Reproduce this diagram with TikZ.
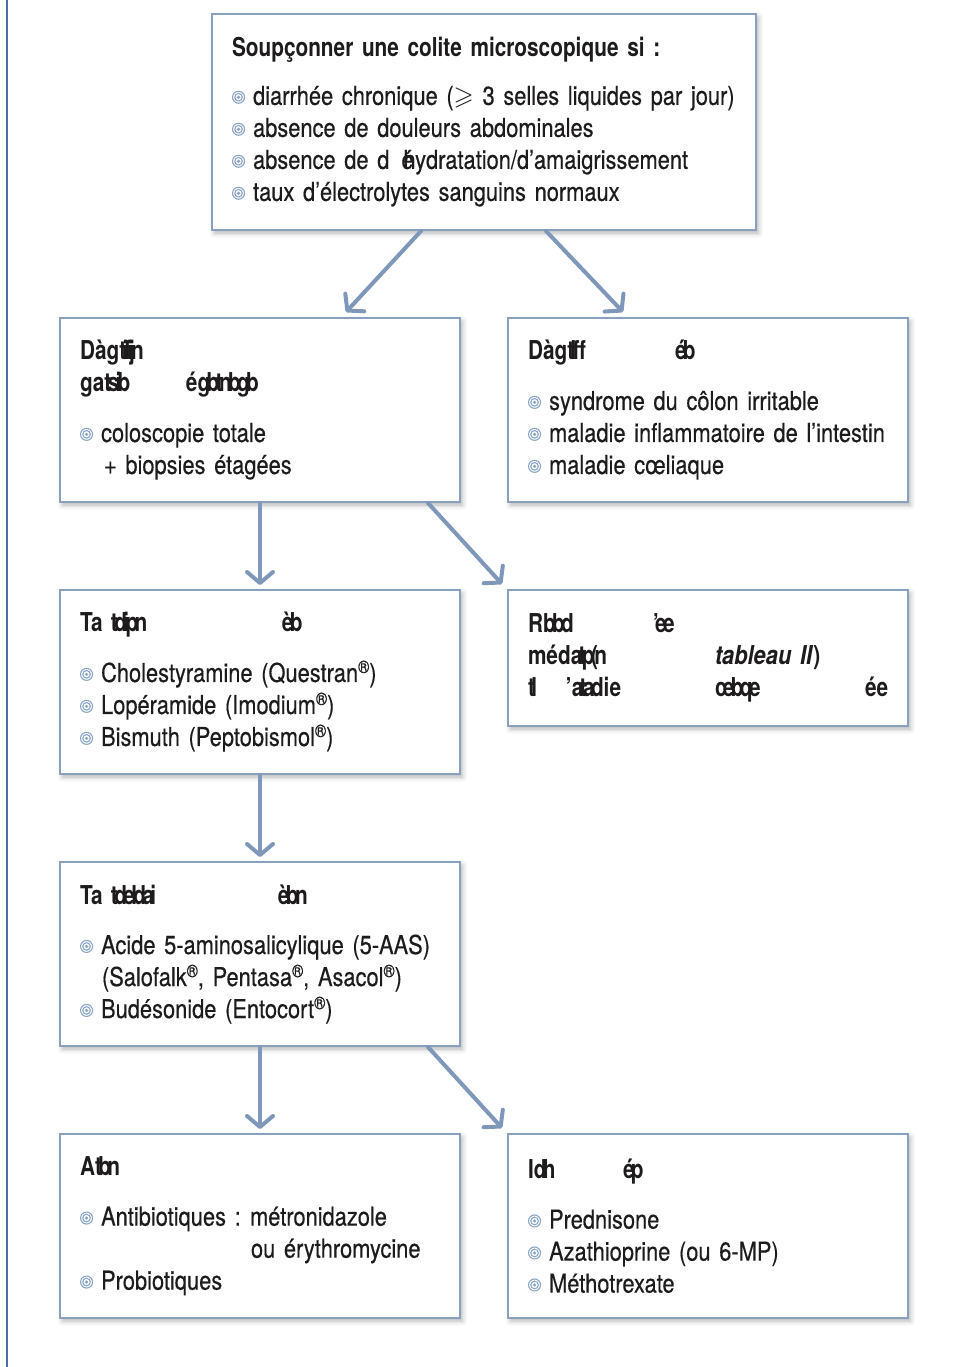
\documentclass[tikz,border=0pt]{standalone}
\usepackage{amssymb}
\usepackage{fontspec}
\setmainfont{TeX Gyre Heros}[FakeStretch=0.84,
    UprightFeatures={FakeBold=0.4},ItalicFeatures={FakeBold=0.4},
    BoldFeatures={FakeStretch=0.8}]
\usetikzlibrary{arrows.meta,shadows.blur}
\setlength{\parindent}{0pt}

\definecolor{cadre}{RGB}{138,160,192}
\definecolor{fleche}{RGB}{127,152,186}
\definecolor{spirale}{RGB}{140,165,200}
\definecolor{encre}{RGB}{30,27,28}
\definecolor{marge}{RGB}{75,110,170}

% puce en spirale
\newcommand{\puce}{\tikz[baseline=0pt]{\draw[spirale,line width=.55pt] (0,3.8pt) circle (3pt) (0,3.8pt) circle (1.9pt); \fill[spirale] (0,3.8pt) circle (.9pt);}\hspace{4pt}}
\newcommand{\placer}[2]{\makebox[0pt][l]{\hspace*{#1}#2}}
\newcommand{\garb}[1]{{\addfontfeature{LetterSpace=-14}#1}}
\newcommand{\rr}{\raisebox{4.5pt}{\fontsize{9}{9}\selectfont ®}}
\DeclareRobustCommand{\serre}{\spaceskip=2.8pt plus 1pt minus .5pt\relax}

\begin{document}
\begin{tikzpicture}[x=0.5pt,y=-0.5pt]
    \tikzset{
        boite/.style={draw=cadre,line width=1pt,fill=white,anchor=north west,align=left,
            inner xsep=10pt,inner ysep=0pt,text=encre,
            font=\fontsize{13}{16}\selectfont\serre,
            blur shadow={shadow xshift=1.2pt,shadow yshift=-1.5pt,shadow blur radius=2.5pt,shadow opacity=30}},
        etroite/.style={text width=180pt,minimum height=92pt},
        large/.style={text width=252pt,minimum height=108pt},
        lien/.style={draw=fleche,line width=2pt,line cap=round,-{Straight Barb[length=5.5pt,width=13pt,round]}}
    }
    \useasboundingbox (0,0) rectangle (962,1367);
    \draw[marge,line width=1pt] (6.5,0) -- (6.5,1367);

    \node[boite,large] (haut) at (211,13) {\textbf{Soupçonner une colite microscopique si :}\par\vspace{8pt}
        \puce diarrhée chronique ($\geqslant$ 3 selles liquides par jour)\par
        \puce absence de douleurs abdominales\par
        \puce absence de d\hspace{6pt}\rlap{é}\kern1pt hydratation/d’amaigrissement\par
        \puce taux d’électrolytes sanguins normaux};

    \node[boite,etroite] (diag) at (59,317) {\textbf{\placer{0pt}{Dàg\garb{tilijn}}}\par
        \textbf{\placer{0pt}{ga\garb{tsib}}\placer{53pt}{é\garb{gbtnbgb}}}\par\vspace{9pt}
        \puce coloscopie totale\par
        \hspace*{12pt}+ biopsies étagées};
    \node[boite,etroite] (diff) at (507,317) {\textbf{\placer{0pt}{Dàg\garb{tlff}}\placer{73.5pt}{\garb{éb}}}\par\vspace{9pt}
        \puce syndrome du côlon irritable\par
        \puce maladie inflammatoire de l’intestin\par
        \puce maladie cœliaque};

    \node[boite,etroite] (trt1) at (59,589) {\textbf{\placer{0pt}{Ta}\placer{15.5pt}{\garb{tdipn}}\placer{101pt}{\garb{èb}}}\par\vspace{9pt}
        \puce Cholestyramine (Questran\rr)\par
        \puce Lopéramide (Imodium\rr)\par
        \puce Bismuth (Peptobismol\rr)};
    \node[boite,text width=180pt,minimum height=68pt] (rech) at (507,589) {\textbf{\placer{0pt}{R\garb{bbd}}\placer{62.5pt}{\garb{’ee}}}\par
        \textbf{\placer{0pt}{méd\garb{atp(n}}\placer{93.5pt}{\textit{tableau II})}}\par
        \textbf{\placer{0pt}{\garb{tl}}\placer{19pt}{’\garb{atad}ie}\placer{93.5pt}{\garb{cebqe}}\placer{168.5pt}{ée}}};

    \node[boite,etroite] (trt2) at (59,861) {\textbf{\placer{0pt}{Ta}\placer{15.5pt}{\garb{tdeldai}}\placer{99pt}{\garb{èbn}}}\par\vspace{9pt}
        \puce Acide 5-aminosalicylique (5-AAS)\par
        \hspace*{11pt}(Salofalk\rr, Pentasa\rr, Asacol\rr)\par
        \puce Budésonide (Entocort\rr)};

    \node[boite,etroite] (autres) at (59,1133) {\textbf{\placer{0pt}{A\garb{tbn}}}\par\vspace{9pt}
        \puce \makebox[74.5pt][l]{Antibiotiques :}métronidazole\par
        \hspace*{85.5pt}ou érythromycine\par
        \puce Probiotiques};
    \node[boite,etroite] (immuno) at (507,1133) {\textbf{\placer{0pt}{I\garb{dh}}\placer{47.5pt}{\garb{ép}}}\par\vspace{9pt}
        \puce Prednisone\par
        \puce Azathioprine (ou 6-MP)\par
        \puce Méthotrexate};

    \draw[lien] ([xshift=-31.5pt]haut.south) -- ([xshift=43pt,yshift=2.5pt]diag.north);
    \draw[lien] ([xshift=31pt]haut.south) -- ([xshift=-42.5pt,yshift=2.5pt]diff.north);
    \draw[lien,shorten >=2pt] (diag) -- (trt1);
    \draw[lien] ([xshift=84pt]diag.south) -- ([xshift=-2.5pt,yshift=2.5pt]rech.north west);
    \draw[lien,shorten >=2pt] (trt1) -- (trt2);
    \draw[lien,shorten >=2pt] (trt2) -- (autres);
    \draw[lien] ([xshift=84pt]trt2.south) -- ([xshift=-2.5pt,yshift=2.5pt]immuno.north west);
\end{tikzpicture}
\end{document}
